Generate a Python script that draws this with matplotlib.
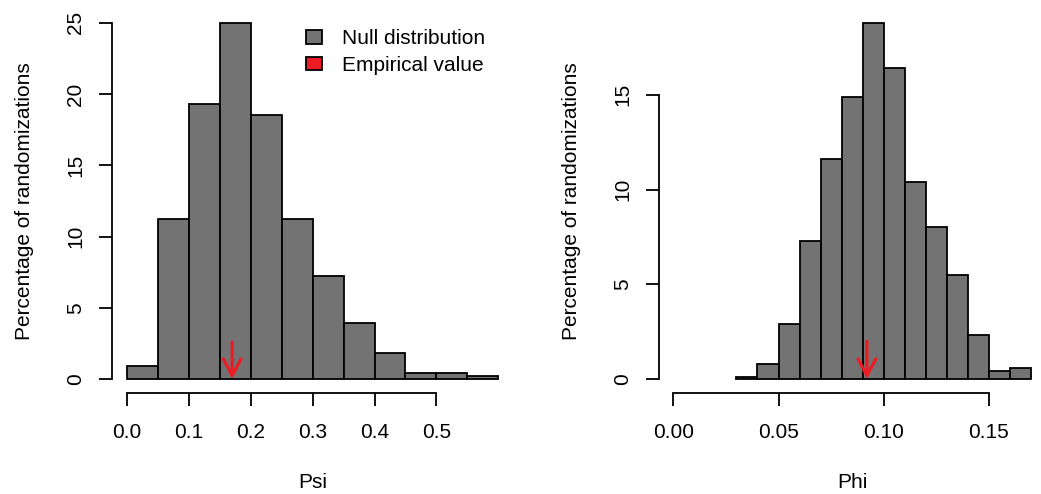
import matplotlib
matplotlib.use("Agg")
import matplotlib.pyplot as plt
from matplotlib.patches import Patch
import numpy as np

plt.rcParams['font.family'] = ['Liberation Sans', 'DejaVu Sans']
plt.rcParams['font.size'] = 15

# Psi null distribution (bin edges, percentage per bin)
psi_breaks = [0.0, 0.05, 0.10, 0.15, 0.20, 0.25, 0.30, 0.35, 0.40, 0.45, 0.50, 0.55, 0.60]
psi_pct = [0.9, 11.2, 19.3, 25.0, 18.5, 11.2, 7.2, 3.9, 1.8, 0.4, 0.4, 0.2]
psi_empirical = 0.17
psi_xticks = [0.0, 0.1, 0.2, 0.3, 0.4, 0.5]
psi_yticks = [0, 5, 10, 15, 20, 25]

# Phi null distribution
phi_breaks = [0.03, 0.04, 0.05, 0.06, 0.07, 0.08, 0.09, 0.10, 0.11, 0.12, 0.13, 0.14, 0.15, 0.16, 0.17]
phi_pct = [0.1, 0.8, 2.9, 7.3, 11.6, 14.9, 18.8, 16.4, 10.4, 8.0, 5.5, 2.3, 0.4, 0.6]
phi_empirical = 0.092
phi_xticks = [0.00, 0.05, 0.10, 0.15]
phi_yticks = [0, 5, 10, 15]

bar_col = '#737373'
red = '#ED1C24'
W, H = 1041, 494

fig = plt.figure(figsize=(W / 100, H / 100), dpi=100)
ax1 = fig.add_axes([112.1 / W, 1 - 393.3 / H, (513.2 - 112.1) / W, (393.3 - 8.5) / H])
ax2 = fig.add_axes([659.0 / W, 1 - 393.3 / H, (1045.3 - 659.0) / W, (393.3 - 8.5) / H])


def r_hist(ax, breaks, pct, emp, xticks, yticks, xlim, ylim, xlabel, xfmt, arrow_top):
    lefts = np.array(breaks[:-1])
    widths = np.diff(breaks)
    ax.bar(lefts, pct, width=widths, align='edge', color=bar_col,
           edgecolor='black', linewidth=1.3)
    ax.annotate('', xy=(emp, 0), xytext=(emp, arrow_top),
                arrowprops=dict(arrowstyle='->,head_length=0.6,head_width=0.32',
                                color=red, lw=2.3, mutation_scale=20,
                                shrinkA=0, shrinkB=0))
    ax.set_xlim(*xlim)
    ax.set_ylim(*ylim)
    for s in ['top', 'right']:
        ax.spines[s].set_visible(False)
    ax.spines['left'].set_bounds(yticks[0], yticks[-1])
    ax.spines['bottom'].set_bounds(xticks[0], xticks[-1])
    for s in ['left', 'bottom']:
        ax.spines[s].set_linewidth(1.3)
    ax.set_xticks(xticks)
    ax.set_xticklabels([xfmt.format(v) for v in xticks])
    ax.set_yticks(yticks)
    ax.set_yticklabels([str(v) for v in yticks], rotation=90, va='center')
    ax.tick_params(axis='both', direction='out', length=9.5, width=1.3)
    ax.tick_params(axis='x', pad=12)
    ax.tick_params(axis='y', pad=10)
    ax.set_xlabel(xlabel, labelpad=22.5)
    ax.set_ylabel('Percentage of randomizations', labelpad=23)
    ax.patch.set_visible(False)


r_hist(ax1, psi_breaks, psi_pct, psi_empirical, psi_xticks, psi_yticks,
       (-0.024, 0.624), (-1, 26), 'Psi', '{:.1f}', 2.6)
r_hist(ax2, phi_breaks, phi_pct, phi_empirical, phi_xticks, phi_yticks,
       (-0.0068, 0.1768), (-0.752, 19.552), 'Phi', '{:.2f}', 2.0)

handles = [Patch(facecolor=bar_col, edgecolor='black', linewidth=1.3),
           Patch(facecolor=red, edgecolor='black', linewidth=1.3)]
ax1.legend(handles, ['Null distribution', 'Empirical value'], loc='upper left',
           bbox_to_anchor=(305.7 / W, 1 - 29.5 / H), bbox_transform=fig.transFigure,
           frameon=False, borderpad=0, borderaxespad=0, handlelength=0.78,
           handleheight=0.63, handletextpad=0.95, labelspacing=0.36)

fig.savefig('out.png', dpi=100)
